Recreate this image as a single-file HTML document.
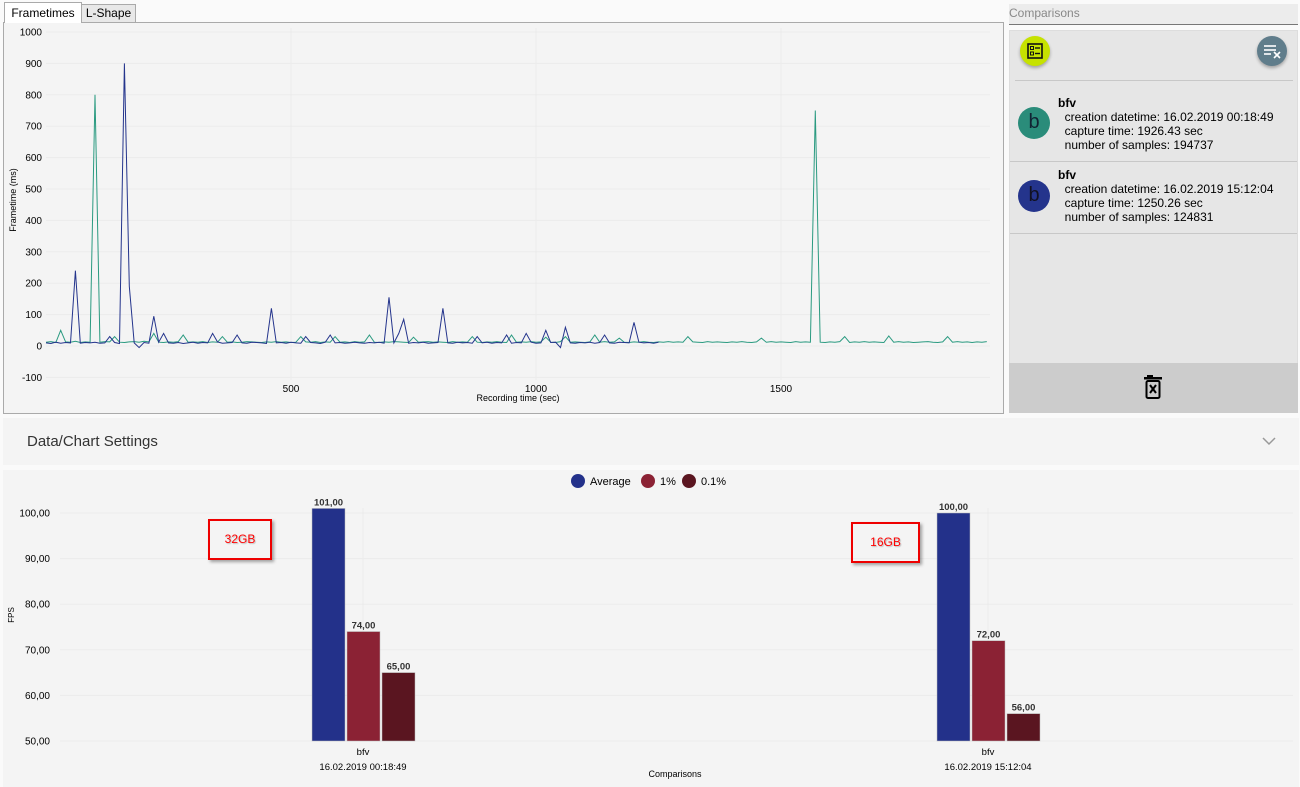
<!DOCTYPE html>
<html><head><meta charset="utf-8">
<style>
body{margin:0;width:1300px;height:787px;background:#fafafa;font-family:"Liberation Sans",sans-serif;overflow:hidden;position:relative}
.abs{position:absolute}
svg text{font-family:"Liberation Sans",sans-serif}
</style></head>
<body>
<div class="abs" style="left:4px;top:2px;width:76px;height:20px;background:#fff;border:1px solid #aaa;border-bottom:none;font-size:12px;line-height:20px;text-align:center;z-index:2">Frametimes</div>
<div class="abs" style="left:81px;top:4px;width:53px;height:17px;background:#e8e8e8;border:1px solid #aaa;font-size:12px;line-height:17px;text-align:center">L-Shape</div>
<div class="abs" style="left:3px;top:22px;width:999px;height:390px;border:1px solid #aaa;background:#f4f4f4"></div>
<svg class="abs" style="left:0;top:0" width="1005" height="415" id="ft"></svg>

<div class="abs" style="left:1009px;top:4px;width:289px;height:20px;border-bottom:1px solid #777;background:#ececec;color:#888;font-size:12px;line-height:18px">Comparisons</div>
<div class="abs" style="left:1009px;top:30px;width:289px;height:383px;background:#e6e6e6;border:1px solid #ddd;box-sizing:border-box"></div>
<div class="abs" style="left:1020px;top:36px;width:30px;height:30px;border-radius:50%;background:#c6e200;box-shadow:0 2px 3px rgba(0,0,0,.3)"><svg width="30" height="30"><rect x="8" y="8" width="14" height="14" fill="none" stroke="#111" stroke-width="1.6"/><rect x="10.5" y="10.5" width="3" height="3" fill="none" stroke="#111" stroke-width="1"/><rect x="10.5" y="16" width="3" height="3" fill="none" stroke="#111" stroke-width="1"/><line x1="15" y1="12" x2="20" y2="12" stroke="#111" stroke-width="1.4"/><line x1="15" y1="17.5" x2="20" y2="17.5" stroke="#111" stroke-width="1.4"/></svg></div>
<div class="abs" style="left:1257px;top:36px;width:30px;height:30px;border-radius:50%;background:#607d8b;box-shadow:0 2px 3px rgba(0,0,0,.3)"><svg width="30" height="30"><g stroke="#fff" stroke-width="1.6"><line x1="7" y1="10" x2="19" y2="10"/><line x1="7" y1="14" x2="19" y2="14"/><line x1="7" y1="18" x2="14" y2="18"/><line x1="17" y1="16" x2="23" y2="22"/><line x1="23" y1="16" x2="17" y2="22"/></g></svg></div>
<div class="abs" style="left:1015px;top:80px;width:278px;height:1px;background:#c8c8c8"></div>

<div class="abs" style="left:1010px;top:82px;width:287px;height:79px">
<div class="abs" style="left:8px;top:25px;width:32px;height:32px;border-radius:50%;background:#2a8c7a;font-size:20px;line-height:30px;text-align:center;color:#123">b</div>
<div class="abs" style="left:48px;top:14px;font-size:12px;line-height:14px;color:#000"><b>bfv</b><br>&nbsp;&nbsp;creation datetime: 16.02.2019 00:18:49<br>&nbsp;&nbsp;capture time: 1926.43 sec<br>&nbsp;&nbsp;number of samples: 194737</div>
</div>
<div class="abs" style="left:1010px;top:161px;width:287px;height:1px;background:#c8c8c8"></div>
<div class="abs" style="left:1010px;top:162px;width:287px;height:71px">
<div class="abs" style="left:8px;top:18px;width:32px;height:32px;border-radius:50%;background:#24348c;font-size:20px;line-height:30px;text-align:center;color:#112">b</div>
<div class="abs" style="left:48px;top:6px;font-size:12px;line-height:14px;color:#000"><b>bfv</b><br>&nbsp;&nbsp;creation datetime: 16.02.2019 15:12:04<br>&nbsp;&nbsp;capture time: 1250.26 sec<br>&nbsp;&nbsp;number of samples: 124831</div>
</div>
<div class="abs" style="left:1010px;top:233px;width:287px;height:1px;background:#c8c8c8"></div>
<div class="abs" style="left:1009px;top:363px;width:289px;height:50px;background:#cccccc"></div>
<svg class="abs" style="left:1143px;top:374px" width="22" height="28"><rect x="4" y="1" width="6" height="2" fill="#000"/><rect x="1" y="3" width="18" height="2.5" fill="#000"/><rect x="3.5" y="7" width="13" height="17" rx="1.5" fill="none" stroke="#000" stroke-width="2"/><line x1="7" y1="11" x2="13" y2="19" stroke="#000" stroke-width="2"/><line x1="13" y1="11" x2="7" y2="19" stroke="#000" stroke-width="2"/></svg>

<div class="abs" style="left:3px;top:418px;width:1296px;height:47px;background:#f4f4f4"><span style="position:absolute;left:24px;top:15px;font-size:15px;color:#333">Data/Chart Settings</span><svg class="abs" style="left:1258px;top:18px" width="16" height="10"><polyline points="2,2 8,8 14,2" fill="none" stroke="#999" stroke-width="1.5"/></svg></div>

<div class="abs" style="left:3px;top:470px;width:1296px;height:317px;background:#f4f4f4"></div>
<svg class="abs" style="left:3px;top:470px" width="1296" height="317" id="bc"></svg>

<script>
// ---------- frametime chart data ----------
const ftStep = 10;
const greenMs = [12,14,11,50,13,12,15,11,13,12, 800,12,14,13,30,12,11,13,14,12, 15,13,40,12,11,13,12,14,35,12, 13,12,14,11,13,12,30,12,13,11, 12,14,13,12,11,13,12,14,12,13, 11,12,30,13,12,14,11,13,12,30, 12,13,11,14,12,13,35,12,11,13, 12,14,13,12,11,28,12,13,14,12, 13,12,11,14,12,13,12,30,12,11, 13,12,14,12,11,35,12,13,12,14, 12,13,28,12,11,14,30,12,13,12, 11,13,35,12,14,12,13,25,12,11, 13,12,14,12,11,13,12,14,12,13, 12,30,13,12,11,14,12,13,12,11, 13,12,14,12,11,13,25,12,14,12, 13,12,11,14,12,13,12,750,12,11, 13,12,14,30,11,13,12,14,12,13, 12,11,32,12,14,12,13,11,12,13, 14,12,11,13,30,12,14,12,13,11, 13,12,14];
const blueMs = [10,8,12,9,11,10,240,9,11,10, 12,9,10,30,11,8,900,190,10,-5, 11,9,95,12,40,10,9,11,8,10, 12,9,11,10,40,13,9,10,11,35, 10,9,12,11,10,8,120,10,11,9, 12,10,9,30,11,10,8,12,35,10, 11,9,10,12,10,9,11,10,12,9, 155,10,40,85,9,11,10,12,9,10, 11,120,10,9,12,10,11,9,30,10, 12,9,11,10,35,9,11,10,40,12, 9,10,50,11,12,-5,60,10,9,11, 10,12,9,11,35,10,9,12,11,10, 75,12,10,11,9,12];
const ftYTicks = [-100,0,100,200,300,400,500,600,700,800,900,1000];
const ftXTicks = [500,1000,1500];

const NS="http://www.w3.org/2000/svg";
function mk(p,tag,attrs,txt){const e=document.createElementNS(NS,tag);for(const k in attrs)e.setAttribute(k,attrs[k]);if(txt!==undefined)e.textContent=txt;p.appendChild(e);return e;}
const ft=document.getElementById('ft');
const fx=t=>46+t*0.49, fy=v=>346-v*0.314;
ftYTicks.forEach(v=>{
  const g=mk(ft,'line',{x1:46,x2:990,y1:fy(v),y2:fy(v),stroke:'#ebebeb'});
  
  
  const t=mk(ft,'text',{x:42,y:fy(v)+3.5,'font-size':10,'text-anchor':'end',fill:'#000'},v);
  
  
});
ftXTicks.forEach(v=>{
  const g=mk(ft,'line',{x1:fx(v),x2:fx(v),y1:28,y2:380,stroke:'#ebebeb'});
  
  
  const t=mk(ft,'text',{x:fx(v),y:392,'font-size':10,'text-anchor':'middle'},v);
  
  
});
const xt=mk(ft,'text',{x:518,y:401,'font-size':9,'text-anchor':'middle'},'Recording time (sec)');


const yt=mk(ft,'text',{x:0,y:0,'font-size':9,'text-anchor':'middle',transform:'translate(16,200) rotate(-90)'},'Frametime (ms)');


function series(arr,color,name){
  const pts=arr.map((v,i)=>fx(i*ftStep).toFixed(1)+','+fy(v).toFixed(1)).join(' ');
  const l=mk(ft,'polyline',{points:pts,fill:'none',stroke:color,'stroke-width':1});
  
  
}
series(greenMs,'#2a9a80','frametime-series-32gb');
series(blueMs,'#24348c','frametime-series-16gb');

// ---------- bar chart data ----------
const categories = ['bfv|16.02.2019 00:18:49','bfv|16.02.2019 15:12:04'];
const avgFps = [101,100];
const p1Fps = [74,72];
const p01Fps = [65,56];
const fpsTicks = [50,60,70,80,90,100];
const seriesNames = ['Average','1%','0.1%'];
const seriesColors = ['#23318a','#8b2234','#5a1520'];

const bc=document.getElementById('bc');
const by=v=>271-(v-50)*4.56;
const cx=[360,985];
fpsTicks.forEach(v=>{
  const g=mk(bc,'line',{x1:57,x2:1290,y1:by(v),y2:by(v),stroke:'#ebebeb'});
  
  
  const t=mk(bc,'text',{x:47,y:by(v)+3.5,'font-size':10,'text-anchor':'end'},v.toFixed(2).replace('.',','));
  
  
});
const fl=mk(bc,'text',{x:0,y:0,'font-size':8,'text-anchor':'middle',transform:'translate(11,145) rotate(-90)'},'FPS');


const ct=mk(bc,'text',{x:672,y:307,'font-size':9,'text-anchor':'middle'},'Comparisons');


const lx=[575,645,686];
seriesNames.forEach((n,i)=>{
  const c=mk(bc,'circle',{cx:lx[i],cy:11,r:7,fill:seriesColors[i]});
  
  
  const t=mk(bc,'text',{x:lx[i]+12,y:15,'font-size':11},n);
  
  
});
const allSeries=[avgFps,p1Fps,p01Fps];
categories.forEach((cat,ci)=>{
  const g=mk(bc,'line',{x1:cx[ci],x2:cx[ci],y1:38,y2:271,stroke:'#ebebeb'});
  
  
  allSeries.forEach((s,si)=>{
    const x=cx[ci]-51+si*35;
    const r=mk(bc,'rect',{x:x,y:by(s[ci]),width:33,height:271-by(s[ci]),fill:seriesColors[si],stroke:'#bbb','stroke-width':0.5});
    
    
    const t=mk(bc,'text',{x:x+16.5,y:by(s[ci])-3,'font-size':9.5,'font-weight':'bold','text-anchor':'middle',fill:'#333'},s[ci].toFixed(2).replace('.',','));
    
    
  });
  const [a,b]=cat.split('|');
  const t1=mk(bc,'text',{x:cx[ci],y:285,'font-size':9.5,'text-anchor':'middle'},a);
  
  
  const t2=mk(bc,'text',{x:cx[ci],y:300,'font-size':9.5,'text-anchor':'middle'},b);
  
  
});
</script>
<div class="abs" style="left:208px;top:519px;width:60px;height:37px;border:2px solid #e00;box-shadow:2px 2px 3px rgba(0,0,0,.35);color:#f00;font-size:12px;line-height:37px;text-align:center;text-shadow:1px 1px 1px #bbb">32GB</div>
<div class="abs" style="left:851px;top:522px;width:65px;height:37px;border:2px solid #e00;box-shadow:2px 2px 3px rgba(0,0,0,.35);color:#f00;font-size:12px;line-height:37px;text-align:center;text-shadow:1px 1px 1px #bbb">16GB</div>
</body></html>
